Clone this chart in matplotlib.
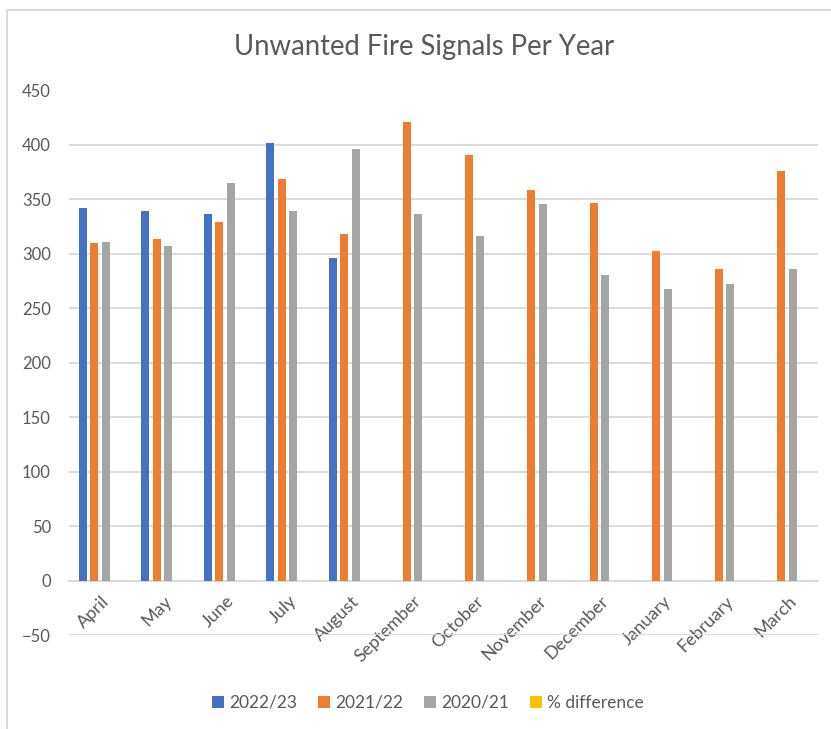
import numpy as np
import matplotlib
matplotlib.use("Agg")
from matplotlib import pyplot as plt
from matplotlib.patches import Rectangle, Patch
from matplotlib.transforms import ScaledTranslation

months = ['April', 'May', 'June', 'July', 'August', 'September', 'October',
          'November', 'December', 'January', 'February', 'March']
y2022_23 = [342, 339, 337, 402, 296, np.nan, np.nan, np.nan, np.nan, np.nan, np.nan, np.nan]
y2021_22 = [310, 314, 329, 369, 318, 421, 391, 359, 347, 303, 286, 376]
y2020_21 = [311, 307, 365, 339, 396, 337, 316, 346, 281, 268, 272, 286]
# % difference bars are not visible in the chart
pct_diff = [np.nan] * 12

series_names = ['2022/23', '2021/22', '2020/21', '% difference']
colors = ['#4472C4', '#ED7D31', '#A5A5A5', '#FFC000']
text_col = '#595959'
grid_col = '#D9D9D9'

plt.rcParams['font.family'] = ['Lato', 'DejaVu Sans']

W, H = 831, 729
fig = plt.figure(figsize=(W / 100, H / 100), dpi=100)

# chart border (only top/left visible in the screenshot)
fig.patches.append(Rectangle((7 / W, -0.1), 1.2, 1 - 10 / H + 0.1, transform=fig.transFigure,
                             fill=False, edgecolor='#D9D9D9', linewidth=1.5))

ax = fig.add_axes([69 / W, 1 - 635 / H, (818 - 69) / W, (635 - 90.5) / H])

x = np.arange(len(months))
step = 0.184
width = 0.128
for i, (vals, c) in enumerate(zip([y2022_23, y2021_22, y2020_21, pct_diff], colors)):
    ax.bar(x + (i - 1.5) * step, vals, width=width, color=c, zorder=3)

ax.set_xlim(-0.5, len(months) - 0.5)
ax.set_ylim(-50, 450)
ax.set_yticks(np.arange(-50, 451, 50))
ax.grid(axis='y', color=grid_col, linewidth=1.3, zorder=0)

for s in ['top', 'right', 'left']:
    ax.spines[s].set_visible(False)
ax.spines['bottom'].set_position(('data', 0))
ax.spines['bottom'].set_color(grid_col)
ax.spines['bottom'].set_linewidth(1.3)

ax.set_xticks(x)
ax.set_xticklabels(months, rotation=45, ha='right', rotation_mode='anchor')
ax.tick_params(axis='x', length=0, pad=9, labelsize=13, labelcolor=text_col)
ax.tick_params(axis='y', length=0, pad=13, labelsize=12, labelcolor=text_col)
shift = ScaledTranslation(1 / 100, 0, fig.dpi_scale_trans)
for lab in ax.get_xticklabels():
    lab.set_transform(lab.get_transform() + shift)

fig.text(424 / W, 1 - 47 / H, 'Unwanted Fire Signals Per Year', ha='center', va='center',
         fontsize=19.8, color=text_col)

handles = [Patch(facecolor=c) for c in colors]
fig.legend(handles, series_names, loc='center', bbox_to_anchor=(428 / W, 1 - 703 / H),
           ncol=4, frameon=False, fontsize=12.5, labelcolor=text_col,
           handlelength=0.7, handleheight=0.7, handletextpad=0.3, columnspacing=1.2)

fig.savefig('out.png', dpi=100)
